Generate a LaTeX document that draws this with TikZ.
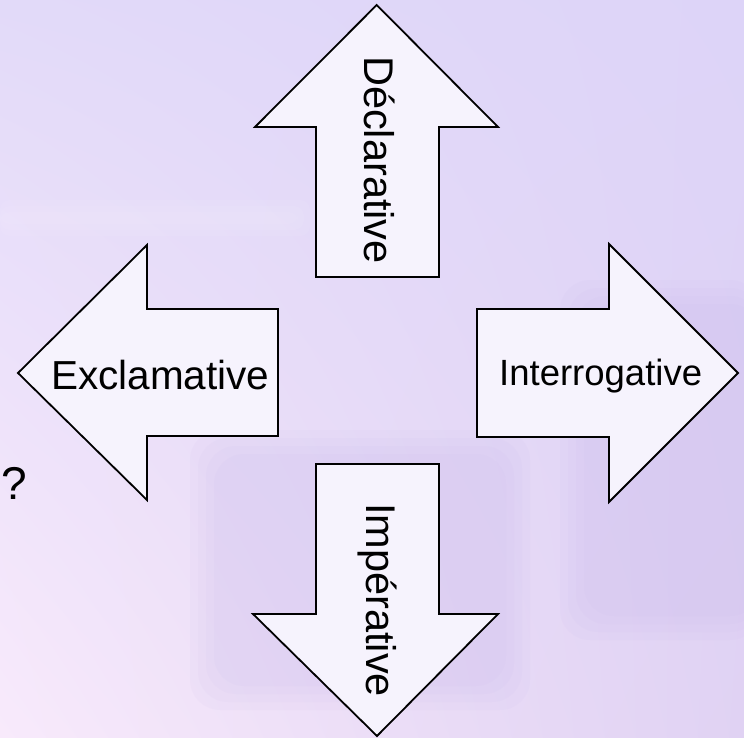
\documentclass[tikz,border=0pt]{standalone}
\usepackage{fontspec}
\setmainfont{Liberation Sans}
\usetikzlibrary{shadings}
\definecolor{bgUL}{RGB}{226,218,249}
\definecolor{bgUR}{RGB}{221,212,248}
\definecolor{bgLL}{RGB}{248,234,251}
\definecolor{bgLR}{RGB}{224,210,243}
\definecolor{arrowfill}{RGB}{246,243,253}
\definecolor{blob}{RGB}{196,180,232}
\begin{document}
\begin{tikzpicture}[x=1pt,y=-1pt,
  arrowshape/.style={draw=black,line width=1.8pt,fill=arrowfill,line join=miter},
  lbl/.style={inner sep=0pt,font=\fontsize{40.5}{44}\selectfont},
  lblvert/.style={inner sep=0pt,font=\fontsize{41.5}{44}\selectfont},
  lblsmall/.style={inner sep=0pt,font=\fontsize{36.5}{40}\selectfont},
  softblob/.style={fill=blob,opacity=0.07,rounded corners=30pt}]
\useasboundingbox (0,0) rectangle (744,738);
\shade[upper left=bgUL,upper right=bgUR,lower left=bgLL,lower right=bgLR] (0,0) rectangle (744,738);
% soft background shapes
\foreach \d in {0,8,16,24} {
  \fill[softblob] (190+\d,430+\d) rectangle (530-\d,710-\d);
  \fill[softblob] (560+\d,280+\d) rectangle (760,640-\d);
}
\foreach \d in {0,6,12} {
  \fill[white,opacity=0.06,rounded corners=10pt] (0,200+\d) rectangle (310-\d,236-\d);
}
% arrows
\draw[arrowshape] (376.7,5) -- (498,127) -- (439,127) -- (439,277) -- (316,277) -- (316,127) -- (255,127) -- cycle;
\draw[arrowshape] (18,373) -- (147,245) -- (147,309) -- (278,309) -- (278,436) -- (147,436) -- (147,500) -- cycle;
\draw[arrowshape] (738,373) -- (609,244) -- (609,309) -- (477,309) -- (477,437) -- (609,437) -- (609,502) -- cycle;
\draw[arrowshape] (377,736) -- (498,614) -- (439,614) -- (439,464) -- (316,464) -- (316,614) -- (253,614) -- cycle;
% labels
\node[lblvert,rotate=-90,anchor=base west] (decl) at (364,56) {Déclarative};
\node[lblvert,rotate=-90,anchor=base west] (imp) at (366,503) {Impérative};
\node[lbl,anchor=base west] (excl) at (51,389) {Exclamative};
\node[lblsmall,anchor=base west] (inter) at (499,385) {Interrogative};
\node[inner sep=0pt,anchor=base west,font=\fontsize{46}{50}\selectfont] (q) at (1,499) {?};
\end{tikzpicture}
\end{document}
